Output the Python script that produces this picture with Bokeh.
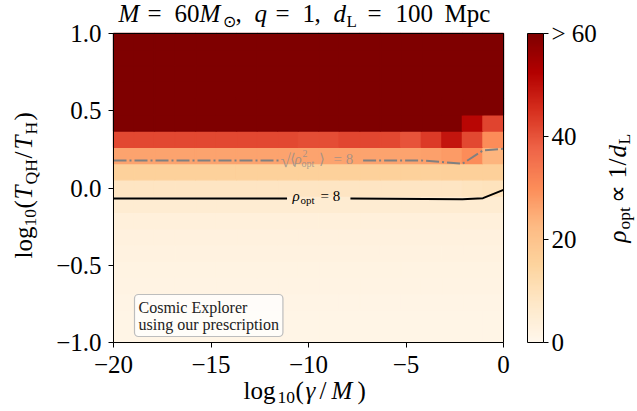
import numpy as np
from bokeh.plotting import figure
from bokeh.models import (LinearColorMapper, ColorBar, FixedTicker, Label,
                          ColumnDataSource, Range1d, LinearAxis)
from bokeh.transform import linear_cmap
from bokeh.palettes import OrRd9
from bokeh.embed import file_html
from bokeh.resources import INLINE

# ---------------- data ----------------
# cell edges of the (log10 gamma/M, log10 T_QH/T_H) grid
x_edges = np.linspace(-20, 0, 20)
y_edges = np.linspace(-1, 1, 20)

# rho_opt per cell, rows from bottom (y=-1) to top (y=+1), 19 columns each
rho_rows = [
    [1.2] * 19,
    [1.4] * 19,
    [1.6] * 19,
    [2.0] * 19,
    [2.2] * 19,
    [2.6] * 19,
    [3.0] * 19,
    [3.6] * 19,
    [5.5] * 19,
    [8.6] * 17 + [9.2, 9.4],
    [15.9] * 16 + [16.2, 16.4, 16.3],
    [26.4] * 15 + [26.8, 27.7, 30.0, 23.5],
    [41.5] * 9 + [41.0, 41.0, 41.8, 41.8, 41.5, 40.0, 43.5, 49.0, 41.6, 30.2],
    [75.0] * 17 + [51.5, 42.0],
    [75.0] * 18 + [61.0],
    [75.0] * 19,
    [75.0] * 19,
    [75.0] * 19,
    [75.0] * 19,
]

# contour rho_opt = 8 (NaN = gap for its label)
c8_x = [-20.0, -11.1, np.nan, -7.85, -2.105, -1.053, 0.0]
c8_y = [-0.068, -0.068, np.nan, -0.068, -0.073, -0.066, -0.012]

# contour sqrt(<rho_opt^2>) = 8
crms_x = [-20.0, -11.4, np.nan, -7.2, -4.21, -3.16, -2.105, -1.053, 0.0]
crms_y = [0.178, 0.178, np.nan, 0.178, 0.178, 0.168, 0.157, 0.243, 0.254]

x_ticks = [-20, -15, -10, -5, 0]
x_tick_labels = ["\u221220", "\u221215", "\u221210", "\u22125", "0"]
y_ticks = [-1.0, -0.5, 0.0, 0.5, 1.0]
y_tick_labels = ["\u22121.0", "\u22120.5", "0.0", "0.5", "1.0"]
cb_ticks = [0, 20, 40, 60]
cb_tick_labels = ["0", "20", "40", "> 60"]
rho_low, rho_high = 0, 60
x_lim = (-20, 0)
y_lim = (-1, 1)

# ---------------- colour map (matplotlib OrRd) ----------------
stops = list(reversed(OrRd9))
rgb = np.array([[int(c[i:i + 2], 16) for i in (1, 3, 5)] for c in stops], float)
pos = np.linspace(0, 1, len(stops))
palette = []
for t in np.linspace(0, 1, 256):
    r, g, b = (int(round(np.interp(t, pos, rgb[:, k]))) for k in range(3))
    palette.append("#%02x%02x%02x" % (r, g, b))

# ---------------- figure (frame = whole canvas, axes at fixed locations) ----------------
W, H = 637, 411
FL, FR, FT, FB = 113, 503, 33, 342   # where the data box sits, in px
dx = (x_lim[1] - x_lim[0]) / (FR - FL)
dy = (y_lim[1] - y_lim[0]) / (FB - FT)
p = figure(width=W, height=H,
           x_range=Range1d(x_lim[0] - FL * dx, x_lim[1] + (W - FR) * dx),
           y_range=Range1d(y_lim[0] - (H - FB) * dy, y_lim[1] + FT * dy),
           x_axis_location=None, y_axis_location=None,
           output_backend="svg", toolbar_location=None,
           min_border=0, min_border_left=0, min_border_right=0,
           min_border_top=0, min_border_bottom=0)
p.grid.visible = False
p.outline_line_color = None
p.background_fill_color = "white"
p.border_fill_color = "white"

# heatmap cells
left, right, bottom, top, val = [], [], [], [], []
for j, row in enumerate(rho_rows):
    for i, v in enumerate(row):
        left.append(x_edges[i]); right.append(x_edges[i + 1])
        bottom.append(y_edges[j]); top.append(y_edges[j + 1])
        val.append(v)
src = ColumnDataSource(dict(left=left, right=right, bottom=bottom, top=top, v=val))
cmap = linear_cmap("v", palette, rho_low, rho_high, high_color=palette[-1])
p.quad(left="left", right="right", bottom="bottom", top="top", source=src,
       fill_color=cmap, line_color=cmap, line_width=1.4)

# contours
p.line(crms_x, crms_y, line_color="#808080", line_width=2, line_dash="13 3 2 3")
p.line(c8_x, c8_y, line_color="black", line_width=2)

FONT = "Liberation Serif"

def style_axis(ax, ticks, labels, standoff):
    ax.ticker = FixedTicker(ticks=ticks)
    ax.major_label_overrides = {t: l for t, l in zip(ticks, labels)}
    ax.major_label_text_font = FONT
    ax.major_label_text_font_size = "25px"
    ax.major_label_text_color = "black"
    ax.minor_tick_line_color = None
    ax.major_tick_in = 0
    ax.major_tick_out = 5
    ax.major_tick_line_color = "black"
    ax.axis_line_color = "black"
    ax.axis_line_width = 1
    ax.major_label_standoff = standoff

xaxis = LinearAxis(fixed_location=y_lim[0], bounds=x_lim)
style_axis(xaxis, x_ticks, x_tick_labels, 8)
p.add_layout(xaxis, "below")
yaxis = LinearAxis(fixed_location=x_lim[0], bounds=y_lim)
style_axis(yaxis, y_ticks, y_tick_labels, 7)
p.add_layout(yaxis, "left")
# top and right spines
for loc, side, bnds in ((y_lim[1], "above", x_lim), (x_lim[1], "right", y_lim)):
    ax = LinearAxis(fixed_location=loc, bounds=bnds, ticker=FixedTicker(ticks=[]))
    ax.major_tick_line_color = None
    ax.minor_tick_line_color = None
    ax.major_label_text_font_size = "0px"
    ax.axis_line_color = "black"
    p.add_layout(ax, side)

# colour bar
mapper = LinearColorMapper(palette=palette, low=rho_low, high=rho_high, high_color=palette[-1])
cb = ColorBar(color_mapper=mapper, ticker=FixedTicker(ticks=cb_ticks),
              major_label_overrides={t: l for t, l in zip(cb_ticks, cb_tick_labels)},
              width=16, height=FB - FT, padding=0, margin=0, location=(527, H - FB),
              major_tick_in=0, major_tick_out=5, major_tick_line_color="black",
              bar_line_color="black", label_standoff=3,
              major_label_text_font=FONT, major_label_text_font_size="25px",
              major_label_text_color="black", background_fill_alpha=0,
              border_line_color=None)
p.add_layout(cb)

SHIFT = 0.32   # text baseline correction, in em

def piece(text, px, py, size, style="normal", rotated=False, color="black", alpha=1.0):
    # px, py: wanted baseline start in canvas pixels from the top-left corner
    if rotated:
        px = px - SHIFT * size
    else:
        py = py - SHIFT * size
    p.add_layout(Label(x=px, y=H - py, x_units="screen", y_units="screen",
                       text=text, text_font=FONT,
                       text_font_size="%gpx" % size, text_font_style=style,
                       angle=np.pi / 2 if rotated else 0.0,
                       text_align="left", text_baseline="alphabetic",
                       text_color=color, text_alpha=alpha))

# title  M = 60 M_sun, q = 1, d_L = 100 Mpc
tb = 21
for txt, x, y, s, st in [
        ("M", 118, tb, 25, "italic"), ("=", 147, tb, 25, "normal"),
        ("60", 174, tb, 25, "normal"), ("M", 199, tb, 25, "italic"),
        ("\u2299", 222, tb + 5, 16, "normal"), (",", 235, tb, 25, "normal"),
        ("q", 254, tb, 25, "italic"), ("=", 275, tb, 25, "normal"),
        ("1", 302, tb, 25, "normal"), (",", 314, tb, 25, "normal"),
        ("d", 333, tb, 25, "italic"), ("L", 346, tb + 5, 17, "normal"),
        ("=", 367, tb, 25, "normal"), ("100", 395, tb, 25, "normal"),
        ("Mpc", 444, tb, 25, "normal")]:
    piece(txt, x, y, s, st)

# x label  log10(gamma/M)
xb = 398
for txt, x, y, s, st in [
        ("log", 243, xb, 25, "normal"), ("10", 277, xb + 5, 17.5, "normal"),
        ("(", 295, xb, 25, "normal"), ("\u03b3", 305, xb, 25, "italic"),
        ("/", 319, xb, 25, "normal"), ("M", 331, xb, 25, "italic"),
        (")", 357, xb, 25, "normal")]:
    piece(txt, x, y, s, st)

# y label  log10(T_QH/T_H)   (rotated, reading upwards)
yb = 31
for txt, x, y, s, st in [
        ("log", yb, 258, 25, "normal"), ("10", yb + 5, 226, 17.5, "normal"),
        ("(", yb, 208, 25, "normal"), ("T", yb, 199, 25, "italic"),
        ("QH", yb + 5, 184, 17.5, "normal"), ("/", yb, 158, 25, "normal"),
        ("T", yb, 149, 25, "italic"), ("H", yb + 5, 134, 17.5, "normal"),
        (")", yb, 120, 25, "normal")]:
    piece(txt, x, y, s, st, rotated=True)

# colour-bar label  rho_opt ∝ 1/d_L
cbx = 625
for txt, x, y, s, st in [
        ("\u03c1", cbx, 242, 25, "italic"), ("opt", cbx + 4, 229, 17.5, "normal"),
        ("\u221d", cbx, 202, 25, "normal"), ("1", cbx, 178, 25, "normal"),
        ("/", cbx, 165, 25, "normal"), ("d", cbx, 157, 25, "italic"),
        ("L", cbx + 4, 144, 17.5, "normal")]:
    piece(txt, x, y, s, st, rotated=True)

# contour labels
for txt, x, y, s, st in [
        ("\u03c1", 292, 200, 15, "italic"), ("opt", 300, 203, 11, "normal"),
        ("= 8", 320, 200, 15, "normal")]:
    piece(txt, x, y, s, st)
for txt, x, y, s, st in [
        ("\u221a", 280, 166, 19, "normal"), ("\u27e8", 289, 163, 15, "normal"),
        ("\u03c1", 294, 163, 15, "italic"), ("2", 302, 156, 10, "normal"),
        ("opt", 301, 166, 10, "normal"), ("\u27e9", 318, 163, 15, "normal"),
        ("= 8", 333, 163, 15, "normal")]:
    piece(txt, x, y, s, st, color="#8c8c8c", alpha=0.75)

# annotation box
p.add_layout(Label(x=134, y=H - 294, x_units="screen", y_units="screen",
                   text="Cosmic Explorer\nusing our prescription",
                   text_font=FONT, text_font_size="16px", text_align="left",
                   text_baseline="top", text_line_height=1.0, text_color="#222222",
                   padding=4, background_fill_color="white", background_fill_alpha=0.75,
                   border_line_color="#bdbdbd", border_line_width=1.2, border_radius=4))

open("out.html", "w").write(file_html(p, INLINE))
